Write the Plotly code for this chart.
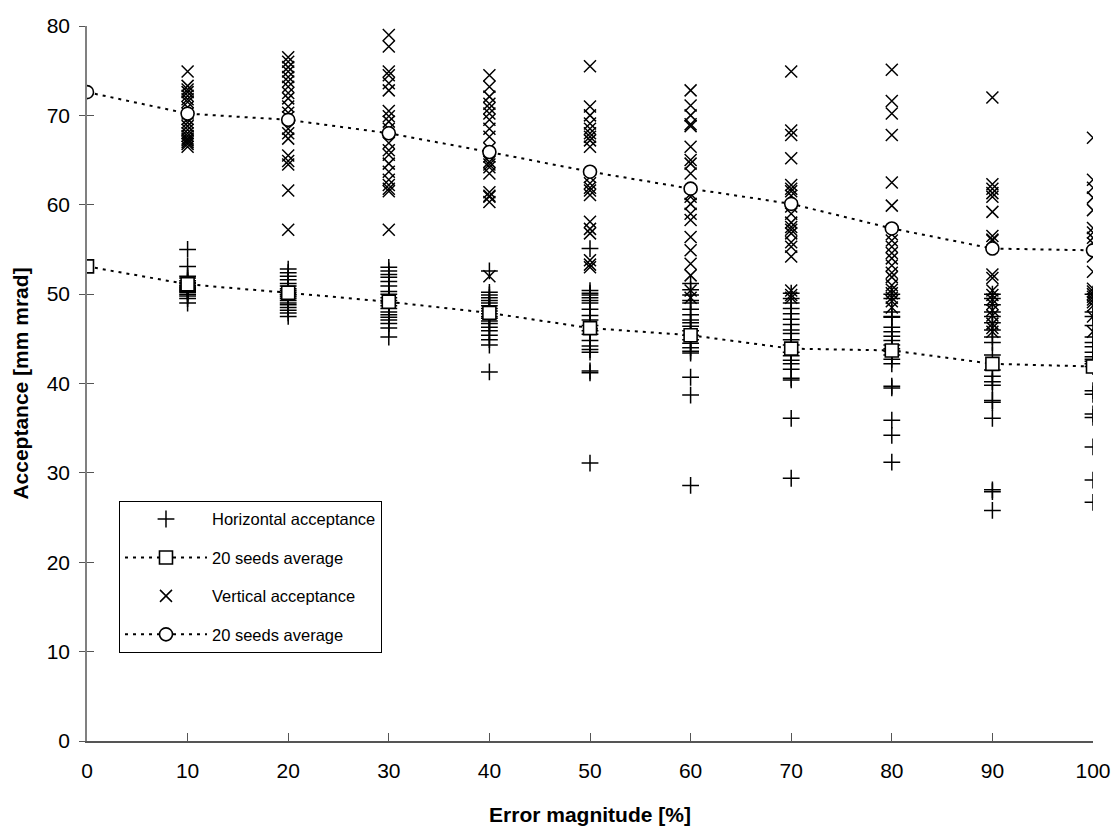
import plotly.graph_objects as go

# Error magnitude [%]
err = [0, 10, 20, 30, 40, 50, 60, 70, 80, 90, 100]
seed_err = [10, 20, 30, 40, 50, 60, 70, 80, 90, 100]

# Horizontal acceptance, 20 seeds per error magnitude [mm mrad]
h10 = [55.0, 53.1, 52.0, 51.8, 51.5, 51.3, 51.2, 51.0, 50.9, 50.8, 50.7, 50.6, 50.5, 50.4, 50.3, 50.2, 50.0, 49.8, 49.5, 49.0]
h20 = [52.8, 52.4, 52.0, 51.6, 51.2, 50.9, 50.6, 50.4, 50.2, 50.0, 49.9, 49.7, 49.5, 49.3, 49.0, 48.8, 48.5, 48.2, 47.9, 47.5]
h30 = [53.0, 52.6, 52.2, 51.9, 51.4, 50.9, 50.3, 50.0, 49.6, 49.3, 49.0, 48.7, 48.4, 48.0, 47.7, 47.4, 47.1, 46.7, 46.2, 45.2]
h40 = [52.6, 50.2, 49.9, 49.6, 49.3, 49.0, 48.7, 48.4, 48.1, 47.8, 47.5, 47.3, 47.0, 46.7, 46.3, 45.9, 45.4, 44.9, 44.3, 41.3]
h50 = [55.1, 50.4, 50.1, 49.9, 49.6, 49.3, 49.0, 48.3, 47.6, 47.1, 46.5, 45.9, 45.5, 44.8, 44.2, 43.8, 43.5, 41.4, 41.2, 31.1]
h60 = [51.2, 50.5, 49.9, 49.3, 49.0, 48.3, 47.7, 47.1, 46.8, 46.4, 45.9, 45.4, 44.9, 44.5, 44.0, 43.6, 43.4, 40.7, 38.7, 28.6]
h70 = [50.1, 49.5, 49.0, 48.4, 47.8, 47.2, 46.6, 46.0, 45.6, 44.9, 44.3, 43.5, 43.1, 42.6, 42.2, 41.6, 40.6, 40.4, 36.1, 29.4]
h80 = [50.0, 49.5, 48.0, 47.4, 47.5, 46.3, 45.8, 45.3, 44.8, 44.3, 43.9, 43.6, 43.2, 42.7, 42.2, 39.7, 39.5, 35.9, 34.2, 31.2]
h90 = [50.0, 49.5, 43.2, 48.8, 48.0, 47.5, 46.8, 46.0, 45.2, 44.6, 41.5, 40.8, 40.2, 39.8, 38.1, 37.9, 36.1, 28.1, 27.9, 25.8]
h100 = [50.0, 48.0, 47.5, 46.5, 45.2, 44.6, 44.1, 43.5, 43.0, 42.7, 42.5, 42.2, 41.9, 39.2, 38.8, 36.6, 36.2, 32.9, 29.2, 26.7]

# Vertical acceptance, 20 seeds per error magnitude [mm mrad]
v10 = [74.9, 73.3, 72.9, 72.6, 72.2, 71.8, 71.5, 70.9, 70.2, 69.6, 69.2, 68.8, 68.4, 68.0, 67.7, 67.4, 67.2, 67.0, 66.8, 66.5]
v20 = [76.5, 76.0, 75.4, 74.9, 74.3, 73.8, 73.2, 72.5, 71.9, 71.0, 70.3, 69.8, 68.5, 68.0, 67.4, 65.5, 64.9, 64.5, 61.6, 57.2]
v30 = [79.0, 77.7, 74.9, 74.5, 73.6, 72.8, 70.5, 69.9, 69.3, 68.5, 66.9, 66.1, 65.6, 64.6, 63.7, 62.8, 62.2, 61.8, 61.5, 57.2]
v40 = [74.5, 73.2, 72.1, 71.3, 70.8, 70.2, 69.5, 68.5, 67.6, 66.3, 65.4, 64.8, 64.5, 64.2, 63.5, 61.4, 61.0, 60.9, 60.3, 52.0]
v50 = [75.5, 71.0, 70.0, 69.1, 68.5, 68.0, 67.6, 67.2, 66.5, 63.1, 62.4, 61.9, 61.6, 61.1, 58.1, 57.3, 56.8, 53.8, 53.3, 53.0]
v60 = [72.8, 71.1, 70.0, 69.0, 68.8, 66.5, 65.0, 64.6, 63.5, 61.2, 60.9, 60.1, 59.0, 58.3, 56.4, 54.9, 53.4, 52.1, 50.4, 49.6]
v70 = [74.9, 68.3, 67.8, 65.2, 62.2, 61.8, 61.5, 61.0, 59.8, 59.0, 58.0, 57.5, 57.2, 56.8, 55.8, 55.3, 54.2, 50.4, 49.9, 49.6]
v80 = [75.1, 71.6, 70.2, 67.8, 62.5, 59.9, 56.7, 56.0, 55.3, 54.6, 54.0, 53.2, 52.4, 51.9, 51.0, 50.5, 50.1, 49.6, 49.2, 48.5]
v90 = [72.0, 62.3, 61.8, 61.3, 60.9, 59.2, 56.5, 56.1, 56.0, 52.2, 51.8, 50.4, 49.9, 49.4, 48.9, 48.2, 47.6, 46.7, 46.2, 45.8]
v100 = [67.5, 62.8, 61.9, 60.8, 59.4, 57.4, 56.9, 56.3, 55.7, 54.2, 52.5, 50.6, 50.3, 50.0, 49.7, 49.4, 49.1, 48.7, 47.5, 45.8]

# 20 seeds averages
h_avg = [53.1, 51.1, 50.15, 49.14, 47.9, 46.2, 45.4, 43.9, 43.7, 42.2, 41.9]
v_avg = [72.6, 70.2, 69.5, 68.0, 65.9, 63.7, 61.8, 60.1, 57.35, 55.1, 54.9]

y_ticks = [0, 10, 20, 30, 40, 50, 60, 70, 80]

h_cols = [h10, h20, h30, h40, h50, h60, h70, h80, h90, h100]
v_cols = [v10, v20, v30, v40, v50, v60, v70, v80, v90, v100]

hx, hy, vx, vy = [], [], [], []
for e, hs, vs in zip(seed_err, h_cols, v_cols):
    hx += [e] * len(hs)
    hy += hs
    vx += [e] * len(vs)
    vy += vs

FONT = "Liberation Sans, Arial, sans-serif"
DASH = "3px,5px"

fig = go.Figure()
fig.add_trace(go.Scatter(
    x=hx, y=hy, mode="markers", name="Horizontal acceptance",
    marker=dict(symbol="cross-thin", size=12, line=dict(color="black", width=1.5)),
    legendgroup="a", legendrank=1))
fig.add_trace(go.Scatter(
    x=vx, y=vy, mode="markers", name="Vertical acceptance",
    marker=dict(symbol="x-thin", size=12, line=dict(color="black", width=1.5)),
    legendgroup="c", legendrank=3))
fig.add_trace(go.Scatter(
    x=err, y=h_avg, mode="lines+markers", name="20 seeds average",
    line=dict(color="black", width=2, dash=DASH),
    marker=dict(symbol="square", size=13, color="white", line=dict(color="black", width=1.6)),
    legendgroup="b", legendrank=2))
fig.add_trace(go.Scatter(
    x=err, y=v_avg, mode="lines+markers", name="20 seeds average",
    line=dict(color="black", width=2, dash=DASH),
    marker=dict(symbol="circle", size=13, color="white", line=dict(color="black", width=1.6)),
    legendgroup="d", legendrank=4))
# invisible helper trace for the inner half of the crossing y ticks
fig.add_trace(go.Scatter(x=[0], y=[0], yaxis="y2", mode="markers",
                         marker=dict(opacity=0), showlegend=False, hoverinfo="skip"))

fig.update_layout(
    width=1112, height=826,
    margin=dict(l=87, r=19, t=26, b=85, autoexpand=False),
    paper_bgcolor="white", plot_bgcolor="white",
    font=dict(family=FONT, size=16, color="black"),
    showlegend=True,
    legend=dict(
        x=0.0318, y=0.336, xanchor="left", yanchor="top",
        bordercolor="black", borderwidth=1, bgcolor="white",
        font=dict(family=FONT, size=16.5, color="black"),
        traceorder="grouped", tracegroupgap=14, itemwidth=82,
    ),
    xaxis=dict(
        range=[0, 100], tickvals=err, ticktext=[str(e) for e in err],
        automargin=False,
        showgrid=False, zeroline=False, showline=True, linecolor="#555555", linewidth=1.5,
        ticks="inside", ticklen=8, tickcolor="#555555", tickwidth=1,
        ticklabelstandoff=10, ticklabeloverflow="allow",
        tickfont=dict(family=FONT, size=21),
        title=dict(text="<b>Error magnitude [%]</b>", font=dict(family=FONT, size=21), standoff=26),
    ),
    yaxis=dict(
        range=[0, 80], tickvals=y_ticks, automargin=False,
        showgrid=False, zeroline=False, showline=True, linecolor="#808080", linewidth=1.5,
        ticks="outside", ticklen=6, tickcolor="#555555", tickwidth=1,
        ticklabelstandoff=5,
        tickfont=dict(family=FONT, size=21),
        title=dict(text="<b>Acceptance [mm mrad]</b>", font=dict(family=FONT, size=21), standoff=12),
    ),
    yaxis2=dict(
        range=[0, 80], overlaying="y", side="left", tickvals=y_ticks, automargin=False,
        showgrid=False, zeroline=False, showline=False, showticklabels=False,
        ticks="inside", ticklen=7, tickcolor="#555555", tickwidth=1,
    ),
)

fig.write_html("out.html")
